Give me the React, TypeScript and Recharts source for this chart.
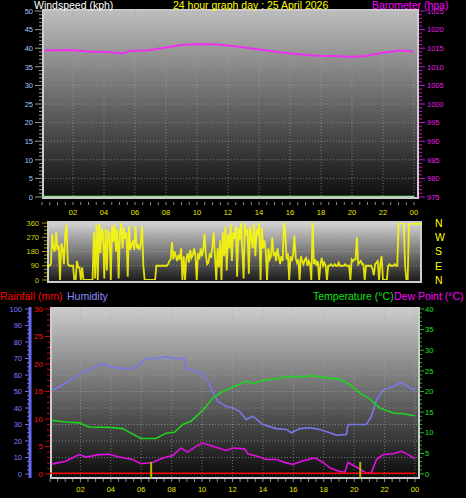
import React from 'react';
import { LineChart, Line, XAxis, YAxis, CartesianGrid, ReferenceLine } from 'recharts';

// ---- time axis (hours of the day) ----
const hourLabels = [2, 4, 6, 8, 10, 12, 14, 16, 18, 20, 22, 24];
const steps = (from: number, to: number, step: number) =>
  Array.from({ length: Math.round((to - from) / step) + 1 }, (_, i) => from + i * step);
const halfHourTicks = steps(0, 24, 0.5);

// ---- top panel: wind speed + barometer ----
const windSpeedTicks = steps(0, 50, 1);
const windSpeedLabels = [0, 5, 10, 15, 20, 25, 30, 35, 40, 45, 50];
const pressureTicks = steps(975, 1025, 1);
const pressureLabels = [975, 980, 985, 990, 995, 1000, 1005, 1010, 1015, 1020, 1025];

const windHours = [0, 24];
const windSpeeds = [0, 0];

const pressureHours = [0.15, 1.9, 2.9, 4.4, 5.25, 5.7, 6.75, 8.0, 9.1, 10.2, 11.3, 12.3, 13.4, 14.5, 15.6, 16.6, 17.7, 18.8, 19.9, 20.9, 22.0, 23.1, 23.95];
const pressureValues = [1014.4, 1014.5, 1014.1, 1013.9, 1013.6, 1014.3, 1014.4, 1015.2, 1015.9, 1016.1, 1016.0, 1015.6, 1015.0, 1014.4, 1013.8, 1013.4, 1013.0, 1012.9, 1012.7, 1012.9, 1013.8, 1014.4, 1014.1];

// ---- middle panel: wind direction (one reading every 5 minutes) ----
const dirTicks = steps(0, 360, 22.5);
const dirLabels = [0, 90, 180, 270, 360];
const compassTicks = [0, 90, 180, 270, 360];
const compassLabels = ['N', 'E', 'S', 'W', 'N'];
const windDirections = [
  90, 90, 90, 100, 290, 200, 180, 300, 190, 220, 0, 230,
  200, 100, 290, 350, 100, 90, 90, 90, 90, 0, 0, 120,
  80, 80, 0, 80, 0, 0, 0, 0, 0, 0, 0, 0,
  300, 10, 350, 0, 355, 170, 330, 290, 10, 320, 60, 310,
  300, 0, 340, 240, 350, 180, 320, 10, 290, 360, 200, 330,
  260, 300, 20, 340, 190, 220, 250, 190, 340, 200, 220, 190,
  230, 340, 90, 0, 0, 0, 0, 0, 0, 0, 0, 0,
  90, 90, 90, 90, 90, 90, 90, 90, 90, 100, 120, 130,
  240, 130, 180, 150, 120, 160, 130, 200, 0, 150, 0, 130,
  170, 110, 190, 140, 160, 200, 150, 0, 170, 130, 200, 150,
  190, 290, 160, 100, 110, 170, 140, 210, 300, 150, 0, 200,
  80, 250, 0, 300, 150, 340, 60, 290, 200, 350, 120, 300,
  260, 340, 20, 330, 250, 360, 190, 10, 350, 280, 320, 40,
  340, 260, 200, 350, 150, 320, 280, 360, 0, 330, 200, 250,
  180, 0, 200, 130, 150, 270, 160, 170, 120, 200, 150, 100,
  150, 120, 360, 300, 130, 170, 0, 150, 120, 160, 280, 140,
  110, 130, 0, 150, 120, 100, 130, 140, 90, 120, 100, 0,
  360, 100, 130, 90, 120, 0, 100, 140, 90, 110, 90, 0,
  90, 90, 100, 90, 90, 100, 90, 90, 110, 90, 90, 90,
  90, 100, 90, 90, 90, 0, 130, 120, 130, 130, 270, 100,
  110, 120, 100, 100, 0, 90, 90, 90, 90, 90, 70, 30,
  100, 110, 120, 0, 100, 150, 0, 0, 0, 0, 90, 100,
  90, 90, 90, 100, 90, 90, 350, 360, 360, 360, 360, 90,
  0, 0, 350, 355, 355, 355, 355, 355, 355, 355, 355, 355,
  355,
];

// ---- bottom panel: rain, humidity, temperature, dew point ----
const humTicks = steps(0, 100, 2.5);
const humLabels = [0, 10, 20, 30, 40, 50, 60, 70, 80, 90, 100];
const rainTicks = steps(0, 30, 1);
const rainLabels = [0, 5, 10, 15, 20, 25, 30];
const tempTicks = steps(0, 40, 1);
const tempLabels = [0, 5, 10, 15, 20, 25, 30, 35, 40];

const rainHours = [0, 24];
const rainValues = [0, 0];
const sunHours = [6.65, 20.4];

const humHours = [0.1, 1.03, 1.98, 3.01, 3.45, 4.0, 4.55, 5.43, 5.87, 6.31, 6.97, 7.63, 8.07, 8.84, 8.95, 9.6, 10.09, 10.7, 11.03, 11.58, 12.02, 12.46, 12.9, 13.34, 14.0, 14.88, 15.54, 15.87, 16.42, 17.08, 17.74, 18.4, 18.84, 19.49, 19.6, 20.81, 21.14, 21.47, 21.91, 22.57, 23.08, 23.45, 24];
const humValues = [50.5, 55, 61, 65, 67, 65, 64, 64, 66, 70, 70, 71, 70, 70, 64, 62, 61, 50, 44, 41, 40, 38, 33, 35, 30, 27.5, 27, 25, 27.5, 28, 27, 25, 23.5, 24, 30, 30, 35, 45, 51, 53, 55.5, 53.5, 50.5];

const tempHours = [0.1, 1.03, 1.91, 2.57, 3.89, 4.77, 5.32, 5.98, 6.97, 7.63, 8.18, 8.73, 9.27, 10.04, 10.7, 11.36, 12.02, 12.9, 13.34, 14.0, 14.88, 15.76, 16.2, 17.3, 18.18, 19.05, 19.71, 20.37, 21.03, 21.69, 22.57, 23.23, 24];
const tempValues = [13.0, 12.6, 12.4, 11.4, 11.3, 11.0, 9.9, 8.6, 8.6, 9.9, 10.1, 12.0, 12.8, 15.4, 18.4, 20.0, 21.1, 22.5, 21.9, 22.7, 23.1, 23.7, 23.5, 23.8, 23.3, 23.0, 21.7, 19.6, 18.2, 16.0, 14.8, 14.6, 14.1];

const dewHours = [0.1, 1.03, 1.91, 2.35, 3.23, 3.89, 4.55, 5.43, 5.98, 6.75, 7.41, 8.07, 8.62, 9.05, 9.6, 10.04, 10.7, 11.58, 12.02, 12.79, 13.01, 13.78, 14.22, 14.88, 15.54, 15.98, 16.53, 17.41, 17.96, 18.4, 19.05, 19.38, 19.6, 20.37, 20.81, 21.14, 21.47, 21.91, 22.57, 23.12, 23.56, 24];
const dewValues = [2.4, 3.1, 4.7, 4.1, 4.7, 4.8, 4.1, 3.5, 2.5, 2.8, 3.9, 4.5, 6.3, 5.3, 6.7, 7.5, 6.7, 5.7, 6.3, 6.1, 4.9, 4.1, 3.5, 3.5, 2.7, 2.3, 3.1, 3.9, 2.8, 1.5, 0.6, 0.4, 2.8, 1.2, 0.2, 0.4, 3.5, 4.7, 4.9, 5.5, 4.7, 3.7];

const series = (hours: number[], values: number[]) => hours.map((h, i) => ({ h, v: values[i] }));
const FONT = '"Liberation Sans", Arial, sans-serif';

type Side = 'left' | 'right' | 'bottom';
interface TickSpec {
  side: Side;
  label: (v: number) => string;
  color: string;
  tickColor: string;
  major: number;
  minor: number;
  gap: number;
  size?: number;
}

// draws tick marks (long for labelled values, short otherwise) plus the label
function makeTick(s: TickSpec) {
  const size = s.size ?? 7.5;
  return (props: any) => {
    const { x, y, payload } = props;
    const v = Number(payload.value);
    const text = s.label(v);
    const len = text ? s.major : s.minor;
    if (s.side === 'bottom') {
      return (
        <g>
          <line x1={x} x2={x} y1={y + 1} y2={y + 1 + len} stroke={s.tickColor} />
          {text ? (
            <text x={x} y={y + s.gap} textAnchor="middle" fill={s.color} fontSize={size} fontFamily={FONT}>
              {text}
            </text>
          ) : null}
        </g>
      );
    }
    const dir = s.side === 'left' ? -1 : 1;
    return (
      <g>
        {len > 0 ? <line x1={x} x2={x + dir * len} y1={y} y2={y} stroke={s.tickColor} /> : null}
        {text ? (
          <text
            x={x + dir * (s.major + s.gap)}
            y={y + size * 0.36}
            textAnchor={dir < 0 ? 'end' : 'start'}
            fill={s.color}
            fontSize={size}
            fontFamily={FONT}
          >
            {text}
          </text>
        ) : null}
      </g>
    );
  };
}

const labelIf = (list: number[]) => (v: number) => (list.some((l) => Math.abs(l - v) < 1e-6) ? String(v) : '');
const hourLabel = (v: number) => (hourLabels.includes(v) ? String(v % 24).padStart(2, '0') : '');
const compassLabel = (v: number) => {
  const i = compassTicks.indexOf(v);
  return i >= 0 ? compassLabels[i] : '';
};

const noLine = { axisLine: false, tickLine: false, tickSize: 0, tickMargin: 0, interval: 0 as const };

function Frame({ left, top, width, height, from, to }: { left: number; top: number; width: number; height: number; from: string; to: string }) {
  return (
    <div
      style={{
        position: 'absolute',
        left,
        top,
        width,
        height,
        boxSizing: 'border-box',
        border: '2px solid #cdcdcd',
        background: `linear-gradient(${from}, ${to})`,
      }}
    />
  );
}

export default function App() {
  const pressureData = series(pressureHours, pressureValues);
  const windData = series(windHours, windSpeeds);
  const dirData = windDirections.map((v, i) => ({ h: i / 12, v }));
  const humData = series(humHours, humValues);
  const tempData = series(tempHours, tempValues);
  const dewData = series(dewHours, dewValues);
  const rainData = series(rainHours, rainValues);

  return (
    <div style={{ position: 'absolute', left: 0, top: 0, width: 466, height: 498, background: '#000', overflow: 'hidden', fontFamily: FONT }}>
      <Frame left={42} top={9} width={377} height={190} from="#bdbdbd" to="#0e0e0e" />
      <Frame left={47} top={221} width={375} height={62} from="#d2d2d2" to="#1c1c1c" />
      <Frame left={50} top={307} width={370} height={172} from="#cacaca" to="#0c0c0c" />

      {/* top panel */}
      <div style={{ position: 'absolute', left: 0, top: 0 }}>
        <LineChart width={466} height={220} margin={{ top: 9, right: 0, bottom: 0, left: 0 }}>
          <CartesianGrid
            xAxisId="t"
            yAxisId="ws"
            horizontalValues={windSpeedLabels}
            verticalValues={hourLabels}
            stroke="#a8a8a8"
            strokeOpacity={0.6}
            strokeDasharray="1 2"
          />
          <XAxis
            xAxisId="t"
            type="number"
            dataKey="h"
            domain={[0, 24.32]}
            allowDataOverflow
            ticks={halfHourTicks}
            height={19}
            {...noLine}
            tick={makeTick({ side: 'bottom', label: hourLabel, color: '#e8e800', tickColor: '#8a8a8a', major: 3, minor: 3, gap: 13.7 })}
          />
          <YAxis
            yAxisId="ws"
            orientation="left"
            width={42}
            type="number"
            domain={[0, 50]}
            allowDataOverflow
            ticks={windSpeedTicks}
            padding={{ top: 2, bottom: 4 }}
            {...noLine}
            tick={makeTick({ side: 'left', label: labelIf(windSpeedLabels), color: '#a8c8f0', tickColor: '#9a9a9a', major: 7, minor: 3, gap: 2 })}
          />
          <YAxis
            yAxisId="baro"
            orientation="right"
            width={47}
            type="number"
            domain={[975, 1025]}
            allowDataOverflow
            ticks={pressureTicks}
            padding={{ top: 2, bottom: 4 }}
            {...noLine}
            tick={makeTick({ side: 'right', label: labelIf(pressureLabels), color: '#e81ee8', tickColor: '#d010d0', major: 6, minor: 3, gap: 2 })}
          />
          <Line xAxisId="t" yAxisId="ws" data={windData} dataKey="v" stroke="#90e090" strokeWidth={2.5} dot={false} isAnimationActive={false} />
          <Line xAxisId="t" yAxisId="baro" data={pressureData} dataKey="v" stroke="#f030f0" strokeWidth={2} dot={false} isAnimationActive={false} />
        </LineChart>
      </div>

      {/* middle panel */}
      <div style={{ position: 'absolute', left: 0, top: 215 }}>
        <LineChart width={466} height={75} margin={{ top: 6, right: 0, bottom: 7, left: 0 }}>
          <CartesianGrid
            xAxisId="t"
            yAxisId="dir"
            horizontalValues={[90, 180, 270]}
            vertical={false}
            stroke="#b0b0b0"
            strokeOpacity={0.6}
            strokeDasharray="1 2"
          />
          <XAxis xAxisId="t" hide type="number" dataKey="h" domain={[0, 24]} allowDataOverflow />
          <YAxis
            yAxisId="dir"
            orientation="left"
            width={47}
            type="number"
            domain={[0, 360]}
            allowDataOverflow
            ticks={dirTicks}
            padding={{ top: 2, bottom: 3 }}
            {...noLine}
            tick={makeTick({ side: 'left', label: labelIf(dirLabels), color: '#d4d400', tickColor: '#a0a000', major: 5, minor: 3, gap: 3 })}
          />
          <YAxis
            yAxisId="compass"
            orientation="right"
            width={44}
            type="number"
            domain={[0, 360]}
            allowDataOverflow
            ticks={compassTicks}
            padding={{ top: 2, bottom: 3 }}
            {...noLine}
            tick={makeTick({ side: 'right', label: compassLabel, color: '#ffff00', tickColor: '#ffff00', major: 0, minor: 0, gap: 13, size: 10.5 })}
          />
          <Line xAxisId="t" yAxisId="dir" data={dirData} dataKey="v" stroke="#ffff00" strokeOpacity={0.85} strokeWidth={1.8} dot={false} isAnimationActive={false} />
          <Line xAxisId="t" yAxisId="compass" data={dirData} dataKey="v" stroke="none" dot={false} isAnimationActive={false} />
        </LineChart>
      </div>

      {/* bottom panel: axis ids are chosen so rainfall sits next to the plot, humidity outside it */}
      <div style={{ position: 'absolute', left: 0, top: 300 }}>
        <LineChart width={466} height={198} margin={{ top: 7, right: 0, bottom: 0, left: 0 }}>
          <CartesianGrid
            xAxisId="t"
            yAxisId="b-hum"
            horizontalValues={humLabels}
            verticalValues={hourLabels}
            stroke="#a8a8a8"
            strokeOpacity={0.6}
            strokeDasharray="1 2"
          />
          <XAxis
            xAxisId="t"
            type="number"
            dataKey="h"
            domain={[0, 24.33]}
            allowDataOverflow
            ticks={halfHourTicks}
            height={20}
            {...noLine}
            tick={makeTick({ side: 'bottom', label: hourLabel, color: '#e8e800', tickColor: '#8a8a8a', major: 3, minor: 3, gap: 14 })}
          />
          <YAxis
            yAxisId="a-rain"
            orientation="left"
            width={20}
            type="number"
            domain={[0, 30]}
            allowDataOverflow
            ticks={rainTicks}
            padding={{ top: 2, bottom: 4 }}
            {...noLine}
            tick={makeTick({ side: 'left', label: labelIf(rainLabels), color: '#ff1010', tickColor: '#d00000', major: 5, minor: 3, gap: 2, size: 8 })}
          />
          <YAxis
            yAxisId="b-hum"
            orientation="left"
            width={30}
            type="number"
            domain={[0, 100]}
            allowDataOverflow
            ticks={humTicks}
            padding={{ top: 2, bottom: 4 }}
            {...noLine}
            axisLine={{ stroke: '#6a6aee', strokeWidth: 3 }}
            tick={makeTick({ side: 'left', label: labelIf(humLabels), color: '#7c7cff', tickColor: '#6a6aee', major: 5, minor: 3, gap: 3 })}
          />
          <YAxis
            yAxisId="temp"
            orientation="right"
            width={46}
            type="number"
            domain={[0, 40]}
            allowDataOverflow
            ticks={tempTicks}
            padding={{ top: 2, bottom: 4 }}
            {...noLine}
            tick={makeTick({ side: 'right', label: labelIf(tempLabels), color: '#20e020', tickColor: '#18c018', major: 4, minor: 2, gap: 1 })}
          />
          <Line xAxisId="t" yAxisId="b-hum" data={humData} dataKey="v" stroke="#7878ea" strokeWidth={1.6} dot={false} isAnimationActive={false} />
          <Line xAxisId="t" yAxisId="temp" data={tempData} dataKey="v" stroke="#1ed41e" strokeWidth={1.6} dot={false} isAnimationActive={false} />
          <Line xAxisId="t" yAxisId="temp" data={dewData} dataKey="v" stroke="#e010e0" strokeWidth={1.6} dot={false} isAnimationActive={false} />
          <Line xAxisId="t" yAxisId="a-rain" data={rainData} dataKey="v" stroke="#ff0000" strokeWidth={3} dot={false} isAnimationActive={false} />
          {sunHours.map((h) => (
            <ReferenceLine
              key={h}
              xAxisId="t"
              yAxisId="a-rain"
              segment={[{ x: h, y: -0.7 }, { x: h, y: 2.2 }]}
              stroke="#b8b800"
              strokeWidth={2}
              ifOverflow="visible"
            />
          ))}
        </LineChart>
      </div>

      {/* titles and legend */}
      <svg width={466} height={498} style={{ position: 'absolute', left: 0, top: 0, pointerEvents: 'none' }} fontFamily={FONT} fontSize={10.5}>
        <text x={34} y={9} fill="#ffffff">Windspeed (kph)</text>
        <text x={173} y={9} fill="#ffff00">24 hour graph day : 25 April 2026</text>
        <text x={372} y={9} fill="#ff00ff">Barometer (hpa)</text>
        <text x={0} y={300} fill="#ff0000">Rainfall (mm)</text>
        <text x={67} y={300} fill="#8c8cff">Humidity</text>
        <text x={313} y={300} fill="#10e010">Temperature (°C)</text>
        <text x={394} y={300} fill="#ff00ff">Dew Point (°C)</text>
      </svg>
    </div>
  );
}
